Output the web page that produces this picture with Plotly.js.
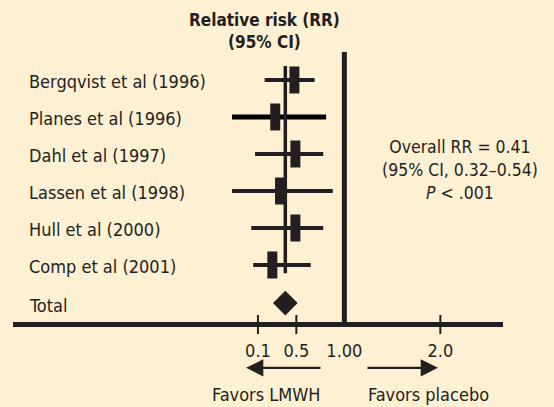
<!DOCTYPE html>
<html>
<head>
<meta charset="utf-8">
<script src="https://cdn.plot.ly/plotly-3.0.1.min.js"></script>
<style>html,body{margin:0;padding:0;background:#FEF0D3;}#chart{width:554px;height:407px;}</style>
</head>
<body>
<div id="chart"></div>
<script>
// ---- data ----
const studies = ["Bergqvist et al (1996)", "Planes et al (1996)", "Dahl et al (1997)",
                 "Lassen et al (1998)", "Hull et al (2000)", "Comp et al (2001)"];
const rr    = [0.48, 0.28, 0.49, 0.33, 0.49, 0.25];
const ciLow = [0.17, -0.17, 0.07, -0.17, 0.03, 0.05];
const ciHigh= [0.69, 0.81, 0.78, 0.88, 0.78, 0.65];
const totalLabel = "Total";
const pooledRR = 0.385;
const tickVals = [0.1, 0.5, 1, 2];
const tickText = ["0.1", "0.5", "1.00", "2.0"];
const tickMarkVals = [0.1, 0.5, 2];
const nullValue = 1;

// ---- styling ----
const ink = '#231F20';
const bg = '#FEF0D3';
const font = 'Liberation Sans Narrow, DejaVu Sans Condensed, Arial Narrow, sans-serif';
const ciWidths = [4, 5, 4, 4, 4, 4];
const ciColors = [ink, '#000000', ink, ink, ink, ink];
const rowPx = 37;   // pixels per row on the y scale

const rows = studies.map((_, i) => i);
const totalRow = studies.length + 0.03;
const axisRow = 6.595;

const traces = [];
studies.forEach((s, i) => {
  traces.push({
    type: 'scatter', mode: 'lines', x: [ciLow[i], ciHigh[i]], y: [rows[i], rows[i]],
    line: {color: ciColors[i], width: ciWidths[i]}, hoverinfo: 'skip', showlegend: false
  });
});
traces.push({
  type: 'scatter', mode: 'markers', x: rr, y: rows,
  marker: {symbol: 'line-ns', size: 19.3, color: ink, line: {color: ink, width: 10}},
  showlegend: false
});
traces.push({
  type: 'scatter', mode: 'markers', x: [pooledRR], y: [totalRow],
  marker: {symbol: 'diamond', size: 19, color: ink, line: {width: 0}},
  showlegend: false
});

const annotations = studies.concat([totalLabel]).map((s, i) => ({
  xref: 'paper', yref: 'y', x: 27/554, y: i === studies.length ? totalRow : rows[i],
  xanchor: 'left', yanchor: 'middle', yshift: -2, text: s, showarrow: false,
  font: {family: font, size: 18, color: ink}
}));
annotations.push({
  xref: 'paper', yref: 'paper', x: 264/554, y: 1 - 8/407, xanchor: 'center', yanchor: 'top',
  text: '<b>Relative risk (RR)</b><br><b>(95% CI)</b>', showarrow: false,
  font: {family: font, size: 17, color: ink}
});
annotations.push({
  xref: 'x', yref: 'y', x: 2.205, y: 2.43, xanchor: 'center', yanchor: 'middle',
  text: 'Overall RR = 0.41<br>(95% CI, 0.32–0.54)<br><i>P</i> < .001', showarrow: false,
  font: {family: font, size: 17.5, color: ink}
});
annotations.push({
  xref: 'x', yref: 'y', axref: 'x', ayref: 'y', x: -0.024, y: 7.78, ax: 0.767, ay: 7.78,
  text: '', showarrow: true, arrowhead: 2, arrowsize: 1.5, arrowwidth: 2.3, arrowcolor: ink
});
annotations.push({
  xref: 'x', yref: 'y', axref: 'x', ayref: 'y', x: 1.975, y: 7.78, ax: 1.225, ay: 7.78,
  text: '', showarrow: true, arrowhead: 2, arrowsize: 1.5, arrowwidth: 2.3, arrowcolor: ink
});
annotations.push({
  xref: 'x', yref: 'y', x: 0.184, y: 8.51, xanchor: 'center', yanchor: 'middle',
  text: 'Favors LMWH', showarrow: false, font: {family: font, size: 18, color: ink}
});
annotations.push({
  xref: 'x', yref: 'y', x: 1.225, y: 8.51, xanchor: 'left', yanchor: 'middle',
  text: 'Favors placebo', showarrow: false, font: {family: font, size: 18, color: ink}
});

const shapes = [
  {type: 'line', xref: 'x', yref: 'y', x0: nullValue, x1: nullValue, y0: -0.757, y1: axisRow,
   line: {color: ink, width: 5}},
  {type: 'line', xref: 'x', yref: 'y', x0: pooledRR, x1: pooledRR, y0: -0.38, y1: 5.22,
   line: {color: ink, width: 3.5}}
];
tickMarkVals.forEach(v => shapes.push({
  type: 'line', xref: 'x', yref: 'y', x0: v, x1: v, y0: axisRow - 9/rowPx, y1: axisRow + 10/rowPx,
  line: {color: ink, width: 2}
}));

const layout = {
  width: 554, height: 407,
  margin: {l: 0, r: 0, t: 0, b: 0, pad: 0},
  paper_bgcolor: bg, plot_bgcolor: bg,
  xaxis: {domain: [13/554, 503/554], range: [-2.4516, 2.6526], anchor: 'free', position: 1 - 324/407,
          showline: true, linewidth: 5, linecolor: ink, ticks: '', tickvals: tickVals, ticktext: tickText,
          showgrid: false, zeroline: false, ticklabelstandoff: 8,
          tickfont: {family: font, size: 18, color: ink}, fixedrange: true},
  yaxis: {domain: [0, 1], range: [8.838, -2.162], visible: false, showgrid: false, zeroline: false, fixedrange: true},
  shapes: shapes,
  annotations: annotations,
  showlegend: false
};

Plotly.newPlot('chart', traces, layout, {displayModeBar: false, staticPlot: true});
</script>
</body>
</html>
